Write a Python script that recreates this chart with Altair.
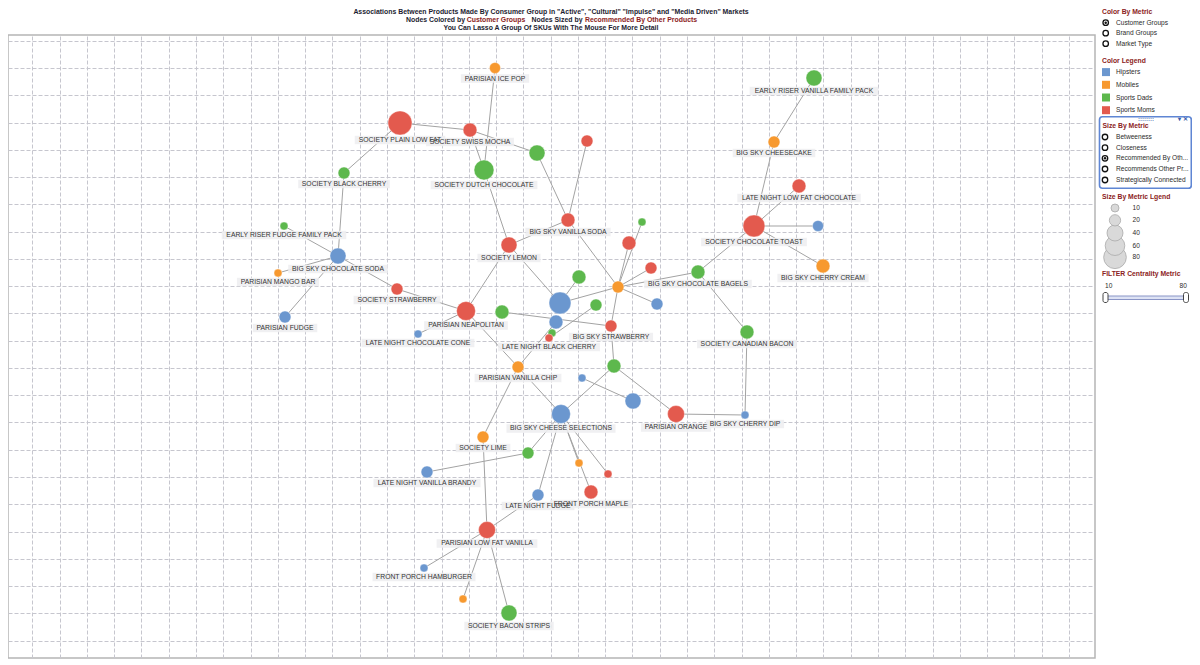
import altair as alt
import pandas as pd

# ------------------------------------------------------------------ data
node_names = [
    "PARISIAN ICE POP", "SOCIETY PLAIN LOW FAT", "SOCIETY SWISS MOCHA", "", "",
    "SOCIETY DUTCH CHOCOLATE", "SOCIETY BLACK CHERRY", "EARLY RISER FUDGE FAMILY PACK",
    "BIG SKY VANILLA SODA", "EARLY RISER VANILLA FAMILY PACK",
    "BIG SKY CHEESECAKE", "LATE NIGHT LOW FAT CHOCOLATE", "SOCIETY CHOCOLATE TOAST", "",
    "BIG SKY CHERRY CREAM",
    "BIG SKY CHOCOLATE BAGELS", "", "", "", "",
    "BIG SKY CHOCOLATE SODA", "PARISIAN MANGO BAR", "PARISIAN FUDGE", "SOCIETY STRAWBERRY",
    "PARISIAN NEAPOLITAN",
    "LATE NIGHT CHOCOLATE CONE", "SOCIETY LEMON", "", "", "",
    "", "LATE NIGHT BLACK CHERRY", "", "", "BIG SKY STRAWBERRY",
    "PARISIAN VANILLA CHIP", "", "", "", "BIG SKY CHEESE SELECTIONS",
    "PARISIAN ORANGE", "BIG SKY CHERRY DIP", "SOCIETY CANADIAN BACON", "", "SOCIETY LIME",
    "", "", "", "LATE NIGHT VANILLA BRANDY", "LATE NIGHT FUDGE",
    "FRONT PORCH MAPLE", "PARISIAN LOW FAT VANILLA", "FRONT PORCH HAMBURGER", "",
    "SOCIETY BACON STRIPS",
]
node_groups = [
    "Mobiles", "Sports Moms", "Sports Moms", "Sports Dads", "Sports Moms",
    "Sports Dads", "Sports Dads", "Sports Dads", "Sports Moms", "Sports Dads",
    "Mobiles", "Sports Moms", "Sports Moms", "Hipsters", "Mobiles",
    "Sports Dads", "Sports Moms", "Sports Moms", "Sports Dads", "Mobiles",
    "Hipsters", "Mobiles", "Hipsters", "Sports Moms", "Sports Moms",
    "Hipsters", "Sports Moms", "Sports Dads", "Hipsters", "Hipsters",
    "Sports Dads", "Sports Moms", "Sports Dads", "Sports Dads", "Sports Moms",
    "Mobiles", "Sports Dads", "Hipsters", "Hipsters", "Hipsters",
    "Sports Moms", "Hipsters", "Sports Dads", "Hipsters", "Mobiles",
    "Sports Dads", "Mobiles", "Sports Moms", "Hipsters", "Hipsters",
    "Sports Moms", "Sports Moms", "Hipsters", "Mobiles", "Sports Dads",
]
node_x = [495, 400, 470, 537, 587, 484, 344, 284, 568, 814,
          774, 799, 754, 818, 823, 698, 651, 629, 642, 618,
          338, 278, 285, 397, 466, 418, 509, 502, 560, 556,
          552, 549, 579, 596, 611, 518, 614, 582, 633, 561,
          676, 745, 747, 657, 483, 528, 579, 608, 427, 538,
          591, 487, 424, 463, 509]
node_y = [68, 123, 130, 153, 141, 170, 173, 226, 220, 78,
          142, 186, 226, 226, 266, 272, 268, 243, 222, 287,
          256, 273, 317, 289, 311, 334, 245, 312, 303, 322,
          333, 338, 277, 305, 326, 367, 366, 378, 401, 414,
          414, 415, 332, 304, 437, 453, 463, 474, 472, 495,
          492, 530, 568, 599, 613]
# "Recommended By Other Products" metric (drives node size)
node_recommended = [19, 90, 30, 40, 22, 62, 22, 10, 30, 40,
                    22, 30, 75, 19, 30, 30, 22, 30, 10, 22,
                    40, 10, 22, 22, 56, 10, 40, 30, 75, 30,
                    10, 10, 30, 22, 22, 22, 30, 10, 40, 56,
                    45, 10, 30, 22, 22, 22, 10, 10, 22, 22,
                    30, 45, 10, 10, 40]

# edges, 1-based node numbers
edge_source = [1, 2, 3, 3, 2, 7, 8, 4, 5, 6, 9, 9, 10, 11, 12, 13, 13, 13, 16, 17,
               18, 19, 20, 20, 20, 16, 43, 41, 37, 35, 37, 38, 40, 36, 36, 36, 27, 27,
               25, 24, 23, 22, 25, 28, 29, 34, 40, 46, 40, 40, 40, 40, 50, 45, 52, 52, 52]
edge_target = [6, 3, 4, 6, 7, 21, 21, 9, 9, 27, 27, 20, 11, 13, 13, 14, 15, 16, 20, 20,
               20, 20, 44, 29, 35, 43, 42, 42, 41, 37, 40, 39, 36, 25, 45, 30, 29, 25,
               24, 21, 21, 21, 26, 35, 33, 32, 46, 49, 50, 47, 51, 48, 52, 52, 53, 54, 55]

group_names = ["Hipsters", "Mobiles", "Sports Dads", "Sports Moms"]
group_colors = ["#6b97cf", "#f7992f", "#5db84d", "#e35a4e"]

size_legend_values = [10, 20, 40, 60, 80]

title_line1 = ('Associations Between Products Made By Consumer Group in "Active", '
               '"Cultural" "Impulse" and "Media Driven" Markets')
title_line2 = ["Nodes Colored by", "Customer Groups", "Nodes Sized by",
               "Recommended By Other Products"]
title_line3 = "You Can Lasso A Group Of SKUs With The Mouse For More Detail"

color_by_options = ["Customer Groups", "Brand Groups", "Market Type"]
size_by_options = ["Betweeness", "Closeness", "Recommended By Oth...",
                   "Recommends Other Pr...", "Strategically Connected"]
filter_range = [10, 80]

# ------------------------------------------------------------------ layout
X_LEFT, X_RIGHT = 8, 1095
Y_TOP, Y_BOTTOM = 35, 658
W = X_RIGHT - X_LEFT
H = Y_BOTTOM - Y_TOP
FONT = "Liberation Sans"
DARK_RED = "#8b2222"
TEXT = "#2b2b2b"
PANEL_SIZE = 6.6

grid_x = [32.3 + 27.28 * k for k in range(39)]
grid_y = [40.7 + 27.27 * k for k in range(23)]

xs = alt.Scale(domain=[X_LEFT, X_RIGHT], nice=False, zero=False)
ys = alt.Scale(domain=[Y_TOP, Y_BOTTOM], nice=False, zero=False, reverse=True)
grid_style = dict(grid=True, labels=False, ticks=False, domain=False, title=None,
                  gridColor="#c6c6ce", gridDash=[4, 2], gridWidth=1)


def X(field):
    return alt.X(field, type="quantitative", scale=xs,
                 axis=alt.Axis(values=grid_x, **grid_style))


def Y(field):
    return alt.Y(field, type="quantitative", scale=ys,
                 axis=alt.Axis(values=grid_y, **grid_style))


ARIAL = {'A': 667, 'B': 667, 'C': 722, 'D': 722, 'E': 667, 'F': 611, 'G': 778,
         'H': 722, 'I': 278, 'J': 500, 'K': 667, 'L': 556, 'M': 833, 'N': 722,
         'O': 778, 'P': 667, 'Q': 778, 'R': 722, 'S': 667, 'T': 611, 'U': 722,
         'V': 667, 'W': 944, 'X': 667, 'Y': 667, 'Z': 611, ' ': 278}
LABEL_SIZE = 6.8


def text_width(s, size):
    return sum(ARIAL.get(c, 600) for c in s) / 1000.0 * size


nodes = pd.DataFrame({
    "id": list(range(1, len(node_names) + 1)),
    "name": node_names, "group": node_groups,
    "x": node_x, "y": node_y, "recommended": node_recommended,
})
nodes["r"] = 4.0 * (nodes["recommended"] / 10.0) ** 0.5
nodes["ly"] = nodes["y"] + nodes["r"] + 5
nodes["hw"] = nodes["name"].apply(lambda s: text_width(s, LABEL_SIZE) / 2 + 3.5)
nodes["lx0"] = nodes["x"] - nodes["hw"]
nodes["lx1"] = nodes["x"] + nodes["hw"]
nodes["ly0"] = nodes["ly"] - 4.2
nodes["ly1"] = nodes["ly"] + 4.2
labels = nodes[nodes["name"] != ""]

pos = nodes.set_index("id")
edges = pd.DataFrame({"s": edge_source, "t": edge_target})
edges["x"] = edges["s"].map(pos["x"])
edges["y"] = edges["s"].map(pos["y"])
edges["x2"] = edges["t"].map(pos["x"])
edges["y2"] = edges["t"].map(pos["y"])

size_scale = alt.Scale(domain=[0, 80], range=[0, 512], zero=True)
color_scale = alt.Scale(domain=group_names, range=group_colors)

edge_layer = alt.Chart(edges).mark_rule(color="#a3a3a3", strokeWidth=1).encode(
    x=X("x"), y=Y("y"), x2="x2", y2="y2")

node_layer = alt.Chart(nodes).mark_circle(opacity=1, stroke="white", strokeWidth=0.8,
                                          strokeOpacity=0.45).encode(
    x=X("x"), y=Y("y"),
    color=alt.Color("group:N", scale=color_scale, legend=alt.Legend(
        title="Color Legend", orient="none", legendX=1094, legendY=22.5,
        titleFont=FONT, titleFontSize=6.8, titleFontWeight="bold", titleColor=DARK_RED,
        titlePadding=3.8, titleAnchor="start",
        symbolType="square", symbolSize=64, symbolStrokeWidth=0, symbolOpacity=1,
        labelFont=FONT, labelFontSize=PANEL_SIZE, labelColor=TEXT, labelOffset=6,
        rowPadding=4.7, padding=0)),
    size=alt.Size("recommended:Q", scale=size_scale, legend=None),
)

label_bg = alt.Chart(labels).mark_rect(fill="#eeeef0", opacity=0.88).encode(
    x=X("lx0"), x2="lx1", y=Y("ly0"), y2="ly1")

label_text = alt.Chart(labels).mark_text(
    font=FONT, fontSize=LABEL_SIZE, color="#333333", baseline="middle", align="center"
).encode(x=X("x"), y=Y("ly"), text="name")

# ---- title (three lines, second line in coloured parts)
title_center = pd.DataFrame({
    "text": [title_line1, title_line3], "x": [551, 551], "y": [11.9, 28.2]})
title_parts = pd.DataFrame({
    "text": title_line2, "x": [435.5, 496, 557, 641], "y": [20] * 4,
    "c": ["#1c1c30", DARK_RED, "#1c1c30", DARK_RED]})
t1 = alt.Chart(title_center).mark_text(
    font=FONT, fontSize=6.9, fontWeight="bold", color="#1c1c30", baseline="middle",
    align="center").encode(x=X("x"), y=Y("y"), text="text")
t2 = alt.Chart(title_parts).mark_text(
    font=FONT, fontSize=6.9, fontWeight="bold", baseline="middle", align="center").encode(
    x=X("x"), y=Y("y"), text="text", color=alt.Color("c:N", scale=None))

# ---- side panel
heads = pd.DataFrame({
    "text": ["Color By Metric", "Size By Metric", "Size By Metric Lgend",
             "FILTER Centrality Metric"],
    "x": [1102, 1102.5, 1102, 1102], "y": [11.8, 126.3, 197.3, 274.3]})
radio_y = [22.7, 33.2, 43.7] + [137, 147.7, 158.3, 169, 180]
radios = pd.DataFrame({
    "text": color_by_options + size_by_options,
    "x": [1105.7] * 3 + [1105] * 5, "y": radio_y,
    "sel": [1, 0, 0, 0, 0, 1, 0, 0]})
radios["lx"] = 1116
sl_y = [257.3, 245.7, 233, 220.3, 208]
size_leg = pd.DataFrame({"recommended": size_legend_values[::-1], "y": sl_y})
size_leg["x"] = 1115
size_leg["lx"] = 1132.5
size_leg["label"] = size_leg["recommended"].astype(str)
filt = pd.DataFrame({"text": [str(v) for v in filter_range], "x": [1105, 1179.5],
                     "y": [285.7, 285.7]})
box = pd.DataFrame({"x": [1099.5], "x2": [1191.3], "y": [116.7], "y2": [188.3]})
track = pd.DataFrame({"x": [1106], "x2": [1186], "y": [296], "y2": [299.5]})
handles = pd.DataFrame({"x": [1103, 1183.5], "x2": [1108, 1188.5],
                        "y": [292.5, 292.5], "y2": [302.5, 302.5]})
boxbar = pd.DataFrame({"text": ["::::::::", "\u25be \u2715"], "x": [1146, 1183],
                       "y": [118.8, 118.8]})

head_layer = alt.Chart(heads).mark_text(
    font=FONT, fontSize=6.8, fontWeight="bold", color=DARK_RED, baseline="middle",
    align="left").encode(x=X("x"), y=Y("y"), text="text")
box_layer = alt.Chart(box).mark_rect(fill="white", stroke="#5f86d4", strokeWidth=1.6,
                                     cornerRadius=3).encode(
    x=X("x"), x2="x2", y=Y("y"), y2="y2")
boxbar_layer = alt.Chart(boxbar).mark_text(
    font=FONT, fontSize=6, fontWeight="bold", color="#3a5aa8", baseline="middle",
    align="center").encode(x=X("x"), y=Y("y"), text="text")
radio_ring = alt.Chart(radios).mark_point(
    shape="circle", filled=False, color="#111111", strokeWidth=1.3, size=30, opacity=1
).encode(x=X("x"), y=Y("y"))
radio_dot = alt.Chart(radios[radios["sel"] == 1]).mark_circle(
    color="#111111", size=6, opacity=1).encode(x=X("x"), y=Y("y"))
radio_text = alt.Chart(radios).mark_text(
    font=FONT, fontSize=PANEL_SIZE, color=TEXT, baseline="middle", align="left").encode(
    x=X("lx"), y=Y("y"), text="text")
size_leg_layer = alt.Chart(size_leg).mark_circle(
    fill="#d9d9d9", stroke="#a9a9a9", strokeWidth=0.8, opacity=1).encode(
    x=X("x"), y=Y("y"), size=alt.Size("recommended:Q", scale=size_scale, legend=None))
size_leg_text = alt.Chart(size_leg).mark_text(
    font=FONT, fontSize=PANEL_SIZE, color=TEXT, baseline="middle", align="left").encode(
    x=X("lx"), y=Y("y"), text="label")
filt_text = alt.Chart(filt).mark_text(
    font=FONT, fontSize=PANEL_SIZE, color=TEXT, baseline="middle", align="left").encode(
    x=X("x"), y=Y("y"), text="text")
track_layer = alt.Chart(track).mark_rect(fill="#dde2f4", stroke="#8a95c6",
                                         strokeWidth=1).encode(
    x=X("x"), x2="x2", y=Y("y"), y2="y2")
handle_layer = alt.Chart(handles).mark_rect(fill="white", stroke="#444444",
                                            strokeWidth=1, cornerRadius=2).encode(
    x=X("x"), x2="x2", y=Y("y"), y2="y2")

chart = alt.layer(
    edge_layer, node_layer, label_bg, label_text, t1, t2,
    box_layer, boxbar_layer, head_layer, radio_ring, radio_dot, radio_text,
    size_leg_layer, size_leg_text, filt_text, track_layer, handle_layer,
).properties(
    width=W, height=H,
    autosize=alt.AutoSizeParams(type="none"),
    padding={"left": 0, "top": Y_TOP - 8, "right": 97, "bottom": 1},
    background="white",
).configure_view(stroke="#b5b5b5", strokeWidth=1.5)

chart.save("out.html", embed_options={"renderer": "svg", "actions": False})
